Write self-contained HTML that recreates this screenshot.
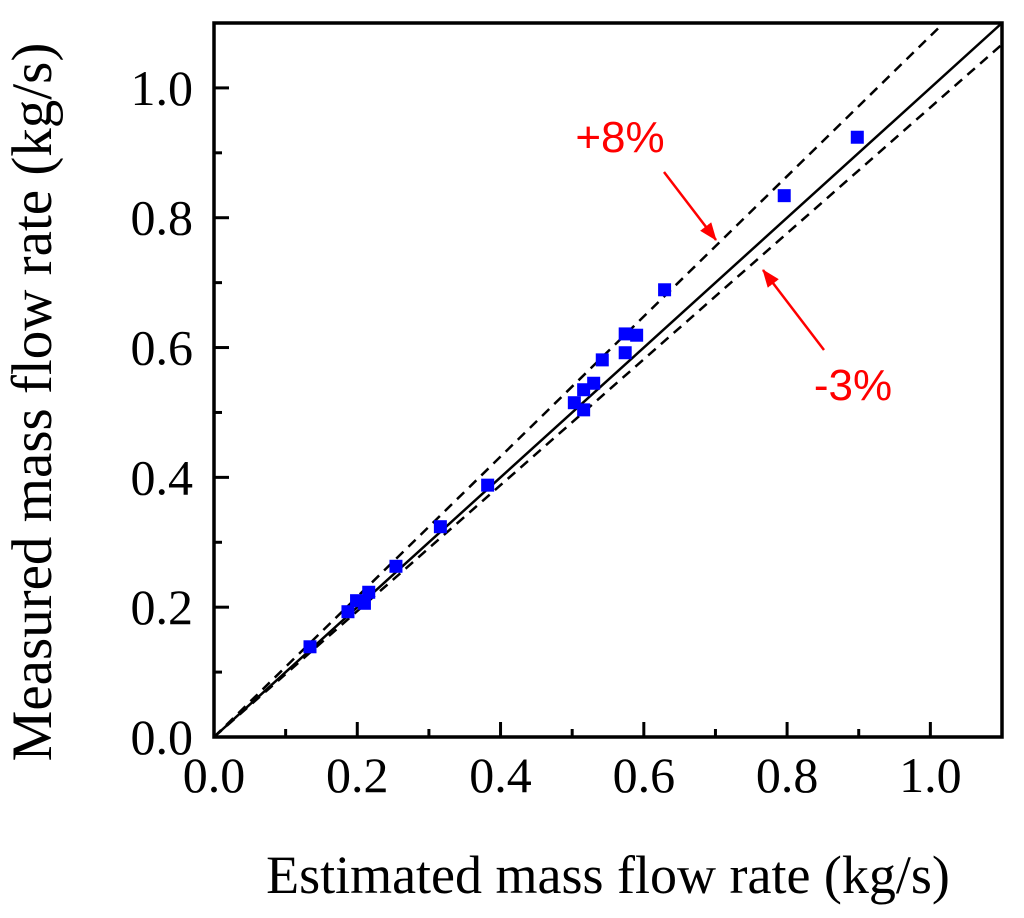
<!DOCTYPE html>
<html><head><meta charset="utf-8"><style>
body{margin:0;background:#fff}
</style></head><body>
<svg width="1024" height="913" xmlns="http://www.w3.org/2000/svg">
<g id="plot"></g>
</svg>
<script>
const estimated=[0.134,0.187,0.199,0.210,0.216,0.254,0.316,0.382,0.503,0.516,0.516,0.530,0.542,0.574,0.574,0.590,0.629,0.796,0.898];
const measured=[0.139,0.193,0.210,0.206,0.223,0.263,0.324,0.388,0.515,0.504,0.535,0.545,0.581,0.592,0.621,0.619,0.689,0.834,0.924];
const tickLabels=["0.0","0.2","0.4","0.6","0.8","1.0"];
const tickValues=[0,0.2,0.4,0.6,0.8,1.0];
const minorValues=[0.1,0.3,0.5,0.7,0.9];
const upperBand=1.08, lowerBand=0.97;
const X0=214,X1=1002,Y0=737,Y1=23,MAX=1.1;
const sx=v=>X0+v/MAX*(X1-X0), sy=v=>Y0-v/MAX*(Y0-Y1);
const NS="http://www.w3.org/2000/svg";
const g=document.getElementById('plot');
const SERIF='font-family:"Liberation Serif",serif;';
const SANS='font-family:"Liberation Sans",sans-serif;';
function mk(t,a,p){const e=document.createElementNS(NS,t);for(const k in a)e.setAttribute(k,a[k]);(p||g).appendChild(e);return e;}
const cp=mk('clipPath',{id:'c'});mk('rect',{x:X0,y:Y1,width:X1-X0,height:Y0-Y1},cp);
let l=mk('line',{x1:sx(0),y1:sy(0),x2:sx(MAX),y2:sy(MAX),stroke:'#000','stroke-width':2.5,'clip-path':'url(#c)'});

l=mk('line',{x1:sx(0),y1:sy(0),x2:sx(MAX),y2:sy(MAX*upperBand),stroke:'#000','stroke-width':2.5,'stroke-dasharray':'10,7','clip-path':'url(#c)'});

l=mk('line',{x1:sx(0),y1:sy(0),x2:sx(MAX),y2:sy(MAX*lowerBand),stroke:'#000','stroke-width':2.5,'stroke-dasharray':'10,7','clip-path':'url(#c)'});

estimated.forEach((e,i)=>{const r=mk('rect',{x:sx(e)-6.5,y:sy(measured[i])-6.5,width:13,height:13,fill:'#0000ff'});
});
const f=mk('rect',{x:X0,y:Y1,width:X1-X0,height:Y0-Y1,fill:'none',stroke:'#000','stroke-width':3.5});

tickValues.forEach((v,i)=>{
 mk('line',{x1:sx(v),y1:Y0,x2:sx(v),y2:Y0-15,stroke:'#000','stroke-width':3});
 mk('line',{x1:X0,y1:sy(v),x2:X0+15,y2:sy(v),stroke:'#000','stroke-width':3});
 let t=mk('text',{x:sx(v),y:Y0+55,'text-anchor':'middle',style:SERIF+'font-size:50px'});t.textContent=tickLabels[i];
 
 t=mk('text',{x:X0-21,y:sy(v)+17,'text-anchor':'end',style:SERIF+'font-size:50px'});t.textContent=tickLabels[i];
 
});
minorValues.forEach(v=>{
 mk('line',{x1:sx(v),y1:Y0,x2:sx(v),y2:Y0-8,stroke:'#000','stroke-width':3});
 mk('line',{x1:X0,y1:sy(v),x2:X0+8,y2:sy(v),stroke:'#000','stroke-width':3});
});
let t=mk('text',{x:608,y:893,'text-anchor':'middle',style:SERIF+'font-size:54px'});t.textContent='Estimated mass flow rate (kg/s)';

t=mk('text',{x:0,y:0,'text-anchor':'middle',transform:'translate(51,402) rotate(-90)',style:SERIF+'font-size:57px'});t.textContent='Measured mass flow rate (kg/s)';

const df=mk('defs',{});const m=mk('marker',{id:'ah',markerWidth:18,markerHeight:14,refX:17,refY:7,orient:'auto',markerUnits:'userSpaceOnUse'},df);
mk('path',{d:'M0,0 L18,7 L0,14 Z',fill:'#ff0000'},m);
t=mk('text',{x:620,y:152,'text-anchor':'middle',fill:'#ff0000',style:SANS+'font-size:44px'});t.textContent='+8%';

t=mk('text',{x:853,y:400,'text-anchor':'middle',fill:'#ff0000',style:SANS+'font-size:44px'});t.textContent='-3%';

l=mk('line',{x1:664,y1:172,x2:716,y2:240,stroke:'#ff0000','stroke-width':2.5,'marker-end':'url(#ah)'});

l=mk('line',{x1:824,y1:350,x2:763,y2:270,stroke:'#ff0000','stroke-width':2.5,'marker-end':'url(#ah)'});

</script>
</body></html>
